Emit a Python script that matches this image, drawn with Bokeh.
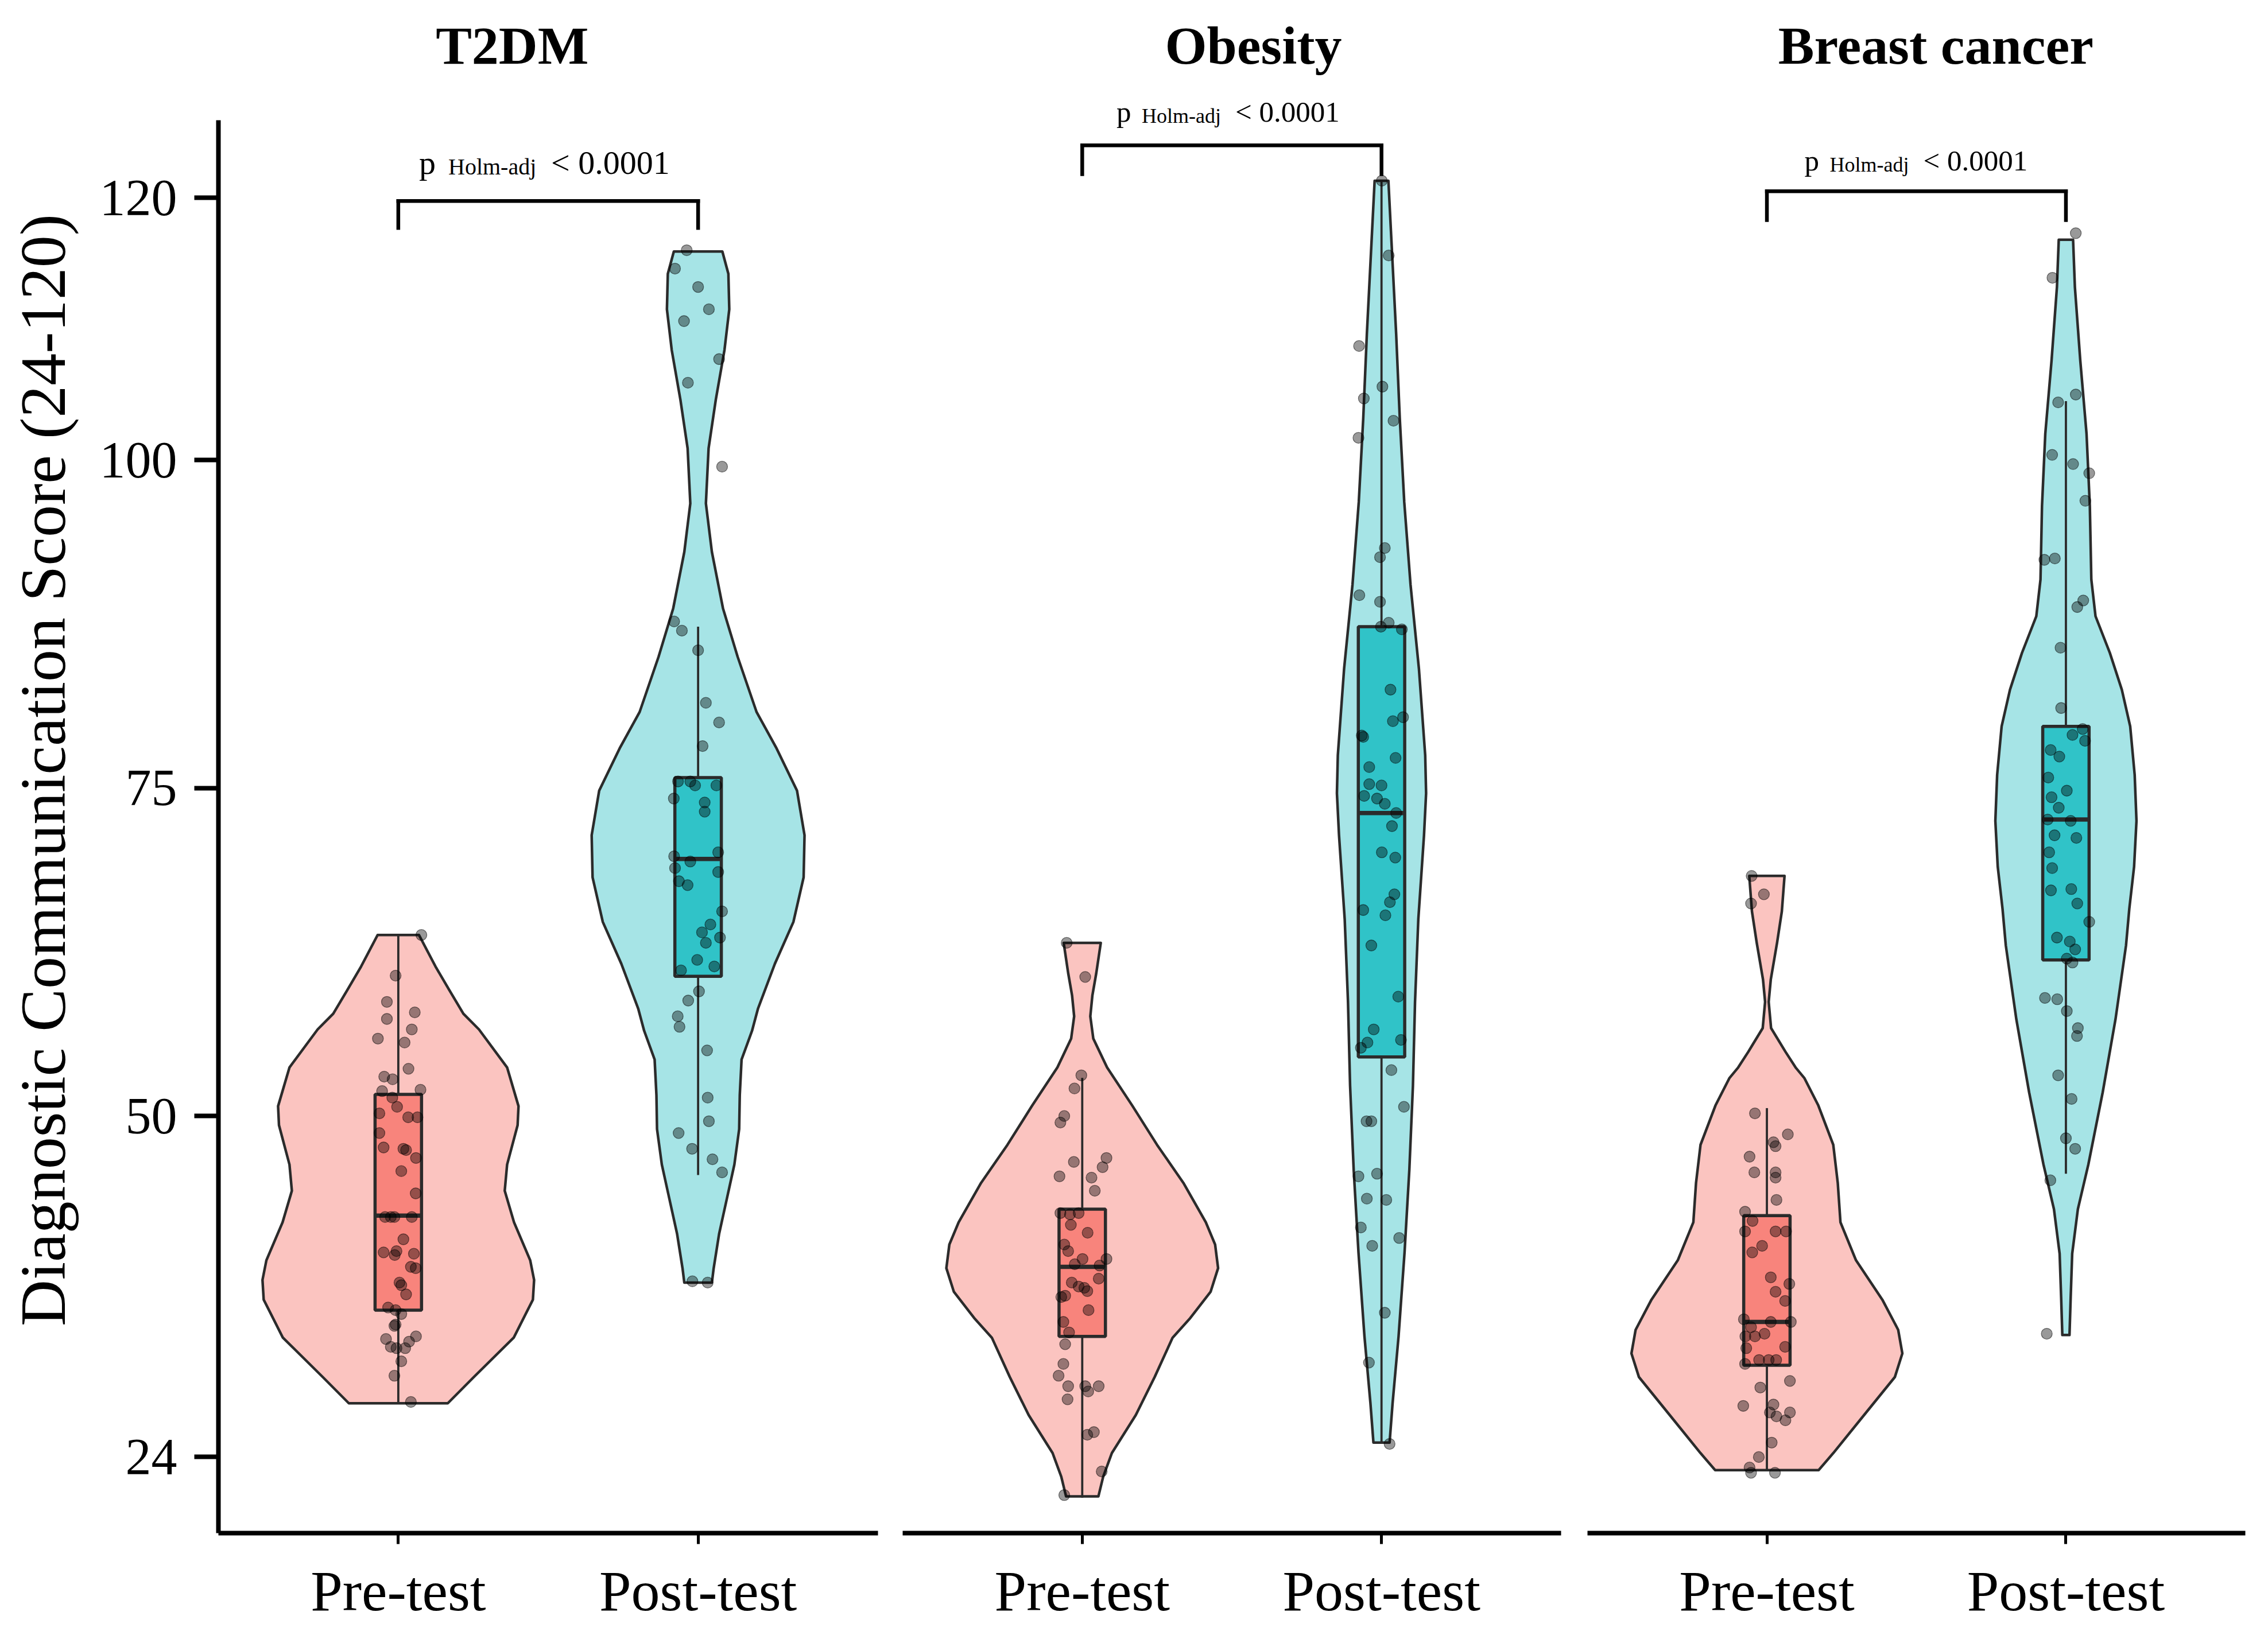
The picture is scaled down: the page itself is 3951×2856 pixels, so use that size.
import math
from bokeh.plotting import figure
from bokeh.models import Range1d, FixedTicker, Label, Arrow
from bokeh.layouts import row
from bokeh.embed import file_html
from bokeh.resources import INLINE

FONT = "Liberation Serif"

panels = ["T2DM", "Obesity", "Breast cancer"]
groups = ["Pre-test", "Post-test"]
y_ticks = [24, 50, 75, 100, 120]
y_title = "Diagnostic Communication Score (24-120)"
p_text_main = "p"
p_text_sub = "Holm-adj"
p_text_val = "< 0.0001"

# ---------------- jittered observations (score, horizontal jitter) ----------------
t2dm_pre_score = [63.8, 60.7, 58.7, 57.9, 57.4, 56.6, 55.9, 55.6, 53.6, 53.0,
                  52.8, 51.9, 52.0, 51.4, 50.7, 50.2, 49.9, 49.9, 48.7, 47.6,
                  47.5, 47.4, 46.8, 45.8, 44.1, 42.3, 42.3, 42.3, 42.3, 40.6,
                  39.6, 39.4, 39.7, 39.5, 38.5, 38.4, 37.3, 37.1, 36.4, 35.4,
                  35.2, 34.9, 34.1, 34.0, 33.0, 32.4, 32.3, 32.3, 32.8, 33.2,
                  31.3, 30.2, 28.2]
t2dm_pre_jit = [0.077, -0.009, -0.038, 0.055, -0.038, 0.045, -0.068, 0.021, 0.034, -0.047,
                -0.019, -0.054, 0.074, -0.020, -0.004, -0.063, 0.033, 0.064, -0.063, -0.049,
                0.017, 0.026, 0.059, 0.010, 0.058, -0.044, -0.025, -0.013, 0.045, 0.017,
                -0.049, -0.012, -0.006, 0.052, 0.042, 0.058, 0.004, 0.010, 0.026, -0.034,
                -0.009, 0.010, -0.009, -0.013, -0.041, -0.025, -0.006, 0.023, 0.036, 0.059,
                0.010, -0.013, 0.042]

t2dm_post_score = [116.0, 114.6, 113.2, 111.5, 110.6, 107.7, 105.9, 99.5, 87.7, 87.0,
                   85.5, 81.5, 80.0, 78.2, 75.5, 75.5, 75.2, 75.2, 74.2, 73.9,
                   73.2, 69.8, 69.4, 70.1, 68.9, 67.6, 67.9, 68.6, 65.6, 64.6,
                   64.0, 63.2, 63.6, 61.9, 61.1, 61.4, 59.5, 58.8, 57.6, 56.8,
                   55.0, 51.4, 49.6, 48.7, 47.5, 46.7, 45.7, 37.4, 37.3]
t2dm_post_jit = [-0.038, -0.077, 0.0, 0.036, -0.047, 0.070, -0.034, 0.080, -0.080, -0.054,
                 0.0, 0.026, 0.070, 0.015, -0.067, -0.026, -0.010, 0.061, -0.081, 0.022,
                 0.022, -0.080, -0.026, 0.067, -0.077, -0.035, -0.064, 0.067, 0.080, 0.041,
                 0.013, 0.026, 0.073, -0.003, -0.057, 0.054, 0.003, -0.033, -0.068, -0.062,
                 0.030, 0.032, 0.036, -0.065, -0.020, 0.048, 0.080, -0.019, 0.032]

obes_pre_score = [63.2, 60.6, 53.1, 52.1, 50.0, 49.5, 46.5, 46.8, 46.1, 45.4,
                  45.3, 44.3, 42.6, 42.5, 42.6, 41.7, 41.1, 40.2, 39.7, 39.1,
                  38.7, 39.1, 38.6, 37.3, 37.0, 36.9, 36.65, 37.6, 36.2, 36.3,
                  35.2, 34.3, 33.5, 32.6, 31.1, 30.2, 29.4, 29.4, 29.4, 29.0,
                  28.4, 25.7, 25.9, 22.9, 21.1]
obes_pre_jit = [-0.052, 0.010, -0.003, -0.026, -0.060, -0.073, -0.028, 0.081, 0.068, -0.076,
                0.031, 0.042, -0.073, -0.041, -0.012, -0.038, 0.018, -0.060, -0.047, 0.001,
                -0.025, 0.081, 0.058, -0.035, -0.012, 0.007, 0.017, 0.055, -0.070, -0.057,
                0.021, -0.063, -0.044, -0.057, -0.063, -0.079, -0.047, 0.010, 0.055, 0.020,
                -0.049, 0.017, 0.039, 0.065, -0.060]

obes_post_score = [121.3, 115.6, 108.7, 104.7, 105.6, 103.0, 101.7, 93.3, 92.6, 89.7,
                   89.2, 87.3, 87.6, 87.1, 82.5, 80.4, 80.1, 79.0, 78.9, 77.3,
                   76.6, 75.3, 74.4, 74.2, 75.2, 73.8, 73.1, 72.1, 70.1, 69.7,
                   66.3, 66.9, 65.3, 65.7, 63.0, 59.1, 56.6, 55.6, 55.2, 55.8,
                   53.5, 50.7, 49.6, 49.6, 45.4, 45.6, 43.7, 43.6, 41.5, 40.1,
                   40.7, 35.0, 31.2, 25.0]
obes_post_jit = [0.001, 0.024, -0.075, -0.059, 0.003, 0.040, -0.077, 0.011, -0.005, -0.074,
                 -0.005, -0.002, 0.024, 0.068, 0.030, 0.072, 0.038, -0.066, -0.061, 0.047,
                 -0.041, -0.041, -0.058, -0.015, 0.0, 0.011, 0.049, 0.035, 0.001, 0.046,
                 0.028, 0.043, 0.013, -0.061, -0.034, 0.056, -0.026, -0.047, -0.069, 0.065,
                 0.033, 0.075, -0.050, -0.034, -0.077, -0.015, -0.049, 0.016, -0.069, -0.031,
                 0.059, 0.011, -0.042, 0.027]

breast_pre_score = [68.3, 66.9, 66.2, 50.2, 48.6, 48.0, 47.7, 46.9, 45.7, 45.7,
                    45.3, 43.6, 42.7, 42.0, 41.2, 41.2, 41.2, 40.1, 39.6, 37.7,
                    36.6, 37.2, 35.9, 34.5, 33.9, 34.3, 34.3, 33.2, 33.2, 33.4,
                    32.3, 32.4, 31.1, 31.4, 31.4, 31.4, 29.3, 29.8, 27.9, 28.0,
                    27.4, 27.1, 27.4, 26.8, 25.1, 24.0, 23.2, 22.8, 22.8]
breast_pre_jit = [-0.051, -0.010, -0.053, -0.040, 0.070, 0.022, 0.029, -0.058, -0.042, 0.029,
                  0.029, 0.032, -0.073, -0.048, -0.073, 0.029, 0.064, -0.016, -0.049, 0.013,
                  0.029, 0.075, 0.061, -0.077, -0.053, 0.013, 0.080, -0.072, -0.040, -0.008,
                  -0.069, 0.061, -0.073, -0.026, 0.006, 0.031, -0.022, 0.077, -0.079, 0.022,
                  0.010, 0.032, 0.077, 0.062, 0.016, -0.027, -0.058, -0.053, 0.027]

breast_post_score = [117.3, 113.9, 104.4, 105.0, 100.4, 99.7, 99.0, 96.9, 92.4, 92.5,
                     89.3, 88.8, 85.7, 81.1, 79.05, 79.5, 78.6, 77.9, 77.4, 75.8,
                     74.8, 74.3, 73.5, 72.6, 72.5, 71.4, 71.2, 70.1, 68.9, 67.2,
                     67.3, 66.2, 64.8, 63.6, 63.3, 62.7, 61.7, 62.0, 59.0, 58.9,
                     58.0, 56.7, 56.1, 53.1, 51.3, 48.3, 47.5, 45.1, 33.4]
breast_post_jit = [0.033, -0.045, -0.026, 0.033, -0.046, 0.024, 0.078, 0.065, -0.072, -0.037,
                   0.058, 0.038, -0.018, -0.016, 0.022, 0.056, 0.064, -0.051, -0.022, -0.059,
                   0.003, -0.048, -0.024, -0.061, 0.016, -0.038, 0.035, -0.056, -0.046, -0.050,
                   0.018, 0.038, 0.078, -0.030, 0.013, 0.031, 0.022, 0.003, -0.070, -0.029,
                   0.003, 0.040, 0.037, -0.026, 0.019, 0.0, 0.031, -0.052, -0.064]

# ---------------- box statistics: [whisker low, Q1, median, Q3, whisker high] ----------------
t2dm_pre_box = [28.2, 35.2, 42.4, 51.65, 63.8]
t2dm_post_box = [45.5, 60.65, 69.6, 75.8, 87.3]
obes_pre_box = [20.9, 33.2, 38.5, 42.9, 52.9]
obes_post_box = [25.1, 54.5, 73.1, 87.3, 121.3]
breast_pre_box = [23.0, 31.0, 34.3, 42.4, 50.6]
breast_post_box = [45.6, 61.9, 72.6, 79.7, 104.5]

# ---------------- violin outlines: score levels and half-widths ----------------
t2dm_pre_vy = [28.1, 30.1, 33.1, 36.0, 37.5, 39.0, 41.9, 44.3, 46.3, 49.3, 50.75, 53.7, 56.6, 57.8, 59.6, 61.4, 63.8]
t2dm_pre_vw = [0.165, 0.252, 0.385, 0.449, 0.453, 0.440, 0.386, 0.355, 0.363, 0.398, 0.401, 0.363, 0.269, 0.217, 0.170, 0.124, 0.069]

t2dm_post_vy = [37.3, 38.4, 41.0, 43.7, 46.3, 49.0, 51.6, 54.3, 56.5, 58.2, 61.6, 64.8, 68.2, 71.4, 74.8, 78.1, 80.8,
                85.0, 88.7, 93.0, 96.7, 100.9, 104.6, 108.4, 111.5, 114.2, 115.9]
t2dm_post_vw = [0.046, 0.052, 0.070, 0.096, 0.121, 0.137, 0.139, 0.145, 0.180, 0.200, 0.256, 0.318, 0.352, 0.355, 0.330, 0.260, 0.195,
                0.132, 0.083, 0.046, 0.026, 0.035, 0.059, 0.088, 0.104, 0.101, 0.081]

obes_pre_vy = [21.0, 22.5, 24.3, 27.2, 30.1, 33.1, 34.6, 36.6, 38.4, 40.2, 41.9, 44.9, 47.8, 50.8, 53.7, 55.9, 57.6, 59.2, 60.9, 63.2]
obes_pre_vw = [0.054, 0.070, 0.099, 0.179, 0.242, 0.302, 0.361, 0.429, 0.454, 0.444, 0.413, 0.338, 0.250, 0.167, 0.083, 0.037, 0.027, 0.034, 0.047, 0.062]

obes_post_vy = [25.1, 28.1, 33.2, 39.6, 45.9, 52.3, 58.7, 65.0, 71.4, 74.6, 77.5, 84.1, 90.5, 96.8, 103.2, 109.6, 115.9, 121.3]
obes_post_vw = [0.027, 0.037, 0.057, 0.077, 0.093, 0.105, 0.112, 0.123, 0.142, 0.149, 0.146, 0.125, 0.097, 0.076, 0.061, 0.049, 0.035, 0.023]

breast_pre_vy = [23.0, 24.3, 27.2, 30.1, 31.9, 33.7, 36.0, 39.0, 41.9, 44.9, 47.8, 50.8, 52.9, 53.7, 54.9, 56.7, 58.7, 60.4, 63.2, 65.6, 68.3]
breast_pre_vw = [0.173, 0.222, 0.325, 0.428, 0.453, 0.439, 0.386, 0.298, 0.246, 0.237, 0.222, 0.172, 0.125, 0.096, 0.062, 0.014, 0.006, 0.013, 0.034, 0.050, 0.059]

breast_post_vy = [33.3, 36.2, 39.5, 42.9, 46.3, 51.8, 57.4, 63.0, 65.8, 69.0, 72.5, 76.0, 79.7, 82.5, 85.3, 88.1, 90.9, 96.5,
                  102.0, 107.6, 113.2, 116.8]
breast_post_vw = [0.012, 0.016, 0.021, 0.040, 0.075, 0.123, 0.166, 0.201, 0.212, 0.228, 0.236, 0.230, 0.215, 0.187, 0.147, 0.099, 0.085, 0.080,
                  0.069, 0.048, 0.030, 0.024]

# ---------------- styling ----------------
violin_fill = {"Pre-test": "#FBC4C0", "Post-test": "#A6E4E6"}
box_fill = {"Pre-test": "#F8847C", "Post-test": "#30C3C8"}
outline = "#2B2B2B"
Y0, Y_AXIS_TOP, Y1 = 18.2, 125.9, 134.53
FRAME_H = 2659
TXT_LIFT = 20

panel_data = [
    dict(name="T2DM",
         pre=(t2dm_pre_score, t2dm_pre_jit, t2dm_pre_box, t2dm_pre_vy, t2dm_pre_vw),
         post=(t2dm_post_score, t2dm_post_jit, t2dm_post_box, t2dm_post_vy, t2dm_post_vw),
         title_x=1.380, br_y=119.75, leg_y=117.7, txt_y=121.8,
         offs=(-225, -174, 5), fs=(58, 40),
         frame_w=1149, left=380, right=21),
    dict(name="Obesity",
         pre=(obes_pre_score, obes_pre_jit, obes_pre_box, obes_pre_vy, obes_pre_vw),
         post=(obes_post_score, obes_post_jit, obes_post_box, obes_post_vy, obes_post_vw),
         title_x=1.572, br_y=124.0, leg_y=121.8, txt_y=125.67,
         offs=(-201, -157, 6), fs=(51, 36),
         frame_w=1147, left=22, right=23),
    dict(name="Breast cancer",
         pre=(breast_pre_score, breast_pre_jit, breast_pre_box, breast_pre_vy, breast_pre_vw),
         post=(breast_post_score, breast_post_jit, breast_post_box, breast_post_vy, breast_post_vw),
         title_x=1.565, br_y=120.5, leg_y=118.3, txt_y=121.97,
         offs=(-195, -151, 12), fs=(51, 36),
         frame_w=1146, left=23, right=24),
]

BOX_HALF = 0.0775


def build_panel(cfg, first):
    kw = dict(frame_width=cfg["frame_w"], frame_height=FRAME_H,
              x_range=Range1d(0.4, 2.6), y_range=Range1d(Y0, Y1),
              output_backend="svg", toolbar_location=None,
              min_border_left=cfg["left"], min_border_right=cfg["right"],
              min_border_top=12, min_border_bottom=169)
    if not first:
        kw["y_axis_location"] = None
    p = figure(**kw)
    p.outline_line_color = None
    p.xgrid.visible = False
    p.ygrid.visible = False
    p.background_fill_color = "white"
    p.border_fill_color = "white"

    # x axis
    xa = p.xaxis[0]
    xa.ticker = FixedTicker(ticks=[1, 2])
    xa.major_label_overrides = {1: groups[0], 2: groups[1]}
    xa.minor_tick_line_color = None
    xa.major_tick_in = 0
    xa.major_tick_out = 19
    xa.major_tick_line_width = 5
    xa.major_tick_line_color = "black"
    xa.axis_line_width = 8
    xa.axis_line_color = "black"
    xa.major_label_text_font = FONT
    xa.major_label_text_font_size = "100px"
    xa.major_label_text_color = "black"
    xa.major_label_standoff = 26

    if first:
        ya = p.yaxis[0]
        ya.bounds = (Y0, Y_AXIS_TOP)
        ya.ticker = FixedTicker(ticks=y_ticks)
        ya.minor_tick_line_color = None
        ya.major_tick_in = 0
        ya.major_tick_out = 42
        ya.major_tick_line_width = 8
        ya.major_tick_line_color = "black"
        ya.axis_line_width = 8
        ya.axis_line_color = "black"
        ya.major_label_text_font = FONT
        ya.major_label_text_font_size = "90px"
        ya.major_label_text_color = "black"
        ya.major_label_standoff = 30
        ya.axis_label = y_title
        ya.axis_label_text_font = FONT
        ya.axis_label_text_font_style = "normal"
        ya.axis_label_text_font_size = "112px"
        ya.axis_label_text_color = "black"
        ya.axis_label_standoff = 34

    for gi, key in enumerate(["pre", "post"]):
        g = groups[gi]
        c = gi + 1
        score, jit, box, vy, vw = cfg[key]
        xs = [c + w for w in vw] + [c - w for w in reversed(vw)]
        ys = list(vy) + list(reversed(vy))
        p.patch(xs, ys, fill_color=violin_fill[g], line_color=outline, line_width=4.5,
                line_join="round")
        wl, q1, med, q3, wh = box
        p.segment(x0=[c, c], y0=[wl, q3], x1=[c, c], y1=[q1, wh], line_color=outline, line_width=3.8)
        p.quad(left=[c - BOX_HALF], right=[c + BOX_HALF], bottom=[q1], top=[q3],
               fill_color=box_fill[g], line_color=outline, line_width=5.5)
        p.segment(x0=[c - BOX_HALF], y0=[med], x1=[c + BOX_HALF], y1=[med],
                  line_color=outline, line_width=7.5)
        p.scatter([c + j for j in jit], score, size=19, fill_color="black", fill_alpha=0.4,
                  line_color="black", line_alpha=0.5, line_width=1.3)

    # significance bracket
    for (x0, y0, x1, y1) in [(1, cfg["leg_y"], 1, cfg["br_y"]),
                             (1, cfg["br_y"], 2, cfg["br_y"]),
                             (2, cfg["br_y"], 2, cfg["leg_y"])]:
        p.add_layout(Arrow(x_start=x0, y_start=y0, x_end=x1, y_end=y1, end=None,
                           line_color="black", line_width=6.5, line_cap="square"))
    o_p, o_s, o_v = cfg["offs"]
    fm, fsub = cfg["fs"]
    p.add_layout(Label(x=1.5, y=cfg["txt_y"], x_offset=o_p, y_offset=TXT_LIFT, text=p_text_main,
                       text_align="left", text_baseline="alphabetic",
                       text_font=FONT, text_font_size=f"{fm}px", text_color="black"))
    p.add_layout(Label(x=1.5, y=cfg["txt_y"], x_offset=o_s, y_offset=TXT_LIFT - 7, text=p_text_sub,
                       text_align="left", text_baseline="alphabetic",
                       text_font=FONT, text_font_size=f"{fsub}px", text_color="black"))
    p.add_layout(Label(x=1.5, y=cfg["txt_y"], x_offset=o_v, y_offset=TXT_LIFT, text=p_text_val,
                       text_align="left", text_baseline="alphabetic",
                       text_font=FONT, text_font_size=f"{fm}px", text_color="black"))
    # panel title
    p.add_layout(Label(x=cfg["title_x"], y=130.76, y_offset=TXT_LIFT, text=cfg["name"],
                       text_align="center", text_baseline="alphabetic", text_font=FONT,
                       text_font_size="94px", text_font_style="bold", text_color="black"))
    return p


figs = [build_panel(cfg, i == 0) for i, cfg in enumerate(panel_data)]
layout = row(*figs)
open("out.html", "w").write(file_html(layout, INLINE))
